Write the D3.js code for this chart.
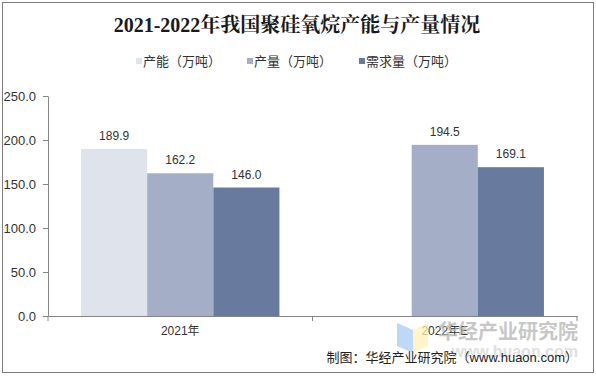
<!DOCTYPE html>
<html>
<head>
<meta charset="utf-8">
<script src="https://cdn.jsdelivr.net/npm/d3@7"></script>
<style>
  body { margin: 0; background: #fff; }
  text { font-family: "Liberation Sans", Arial, "Noto Sans CJK SC", sans-serif; }
  .title { font-family: "Liberation Serif", "Noto Serif CJK SC", "Noto Sans CJK SC", serif; font-weight: bold; font-size: 20px; fill: #1a1a1a; }
  .axis path, .axis line { stroke: #868686; }
  .axis text { fill: #333; }
</style>
</head>
<body>
<div id="chart"></div>
<script>
// chart data
const categories = ["2021年", "2022年E"];
const seriesNames = ["产能（万吨）", "产量（万吨）", "需求量（万吨）"];
const capacity = [189.9, null];
const output = [162.2, 194.5];
const demand = [146.0, 169.1];
const yTicks = [0, 50, 100, 150, 200, 250];

const colors = ["#dee3ec", "#a4afc7", "#687b9f"];
const allSeries = [capacity, output, demand];

const W = 596, H = 377;
const margin = {top: 96, right: 19, bottom: 61, left: 48},
    width = W - margin.left - margin.right,
    height = H - margin.top - margin.bottom;

const root = d3.select("#chart")
  .append("svg")
    .attr("width", W)
    .attr("height", H);

// outer frame
root.append("rect")
  .attr("x", 2.5).attr("y", 2.5)
  .attr("width", 591).attr("height", 370)
  .attr("fill", "#fff")
  .attr("stroke", "#7f7f7f");

// title
root.append("text")
  .attr("class", "title")
  .attr("x", 297)
  .attr("y", 32)
  .attr("text-anchor", "middle")
  .text("2021-2022年我国聚硅氧烷产能与产量情况");

// legend
const legendX = [136, 247, 359];
const legend = root.selectAll(".legend")
  .data(seriesNames)
  .join("g")
    .attr("transform", (d, i) => `translate(${legendX[i]},61)`);
legend.append("rect")
  .attr("x", 0).attr("y", -3)
  .attr("width", 6).attr("height", 6)
  .attr("fill", (d, i) => colors[i]);
legend.append("text")
  .attr("x", 7)
  .attr("y", 5)
  .style("font-size", "13px")
  .attr("fill", "#333")
  .text(d => d);

const svg = root.append("g")
  .attr("transform", `translate(${margin.left},${margin.top})`);

// X scale
const x = d3.scaleBand()
  .range([0, width])
  .domain(categories)
  .padding(0);

const xs = d3.scaleBand()
  .domain(d3.range(seriesNames.length))
  .range([0, x.bandwidth()])
  .paddingInner(0)
  .paddingOuter(0.5);

// Y scale
const y = d3.scaleLinear()
  .domain([0, 250])
  .range([height, 0]);

// bars
const rows = [];
categories.forEach((c, ci) => {
  allSeries.forEach((s, si) => {
    if (s[ci] != null) rows.push({cat: c, si: si, value: s[ci]});
  });
});

svg.selectAll(".bar")
  .data(rows)
  .join("rect")
    .attr("class", "bar")
    .attr("x", d => x(d.cat) + xs(d.si))
    .attr("y", d => y(d.value))
    .attr("width", xs.bandwidth())
    .attr("height", d => height - y(d.value))
    .attr("fill", d => colors[d.si]);

// value labels
svg.selectAll(".lbl")
  .data(rows)
  .join("text")
    .attr("x", d => x(d.cat) + xs(d.si) + xs.bandwidth() / 2)
    .attr("y", d => y(d.value) - 9)
    .attr("text-anchor", "middle")
    .style("font-size", "12px")
    .attr("fill", "#333")
    .text(d => d.value.toFixed(1));

// Y axis
svg.append("g")
  .attr("class", "axis")
  .call(d3.axisLeft(y).tickValues(yTicks).tickSize(5).tickSizeOuter(0).tickFormat(d3.format(".1f")))
  .call(g => g.selectAll("text").style("font-size", "13px").attr("x", -12));

// X axis
const xAxis = svg.append("g")
  .attr("class", "axis")
  .attr("transform", `translate(0,${height})`)
  .call(d3.axisBottom(x).tickSize(0).tickSizeOuter(0));
xAxis.selectAll("text")
  .style("font-size", "12px")
  .attr("dy", 0)
  .attr("y", 19);
// boundary ticks between categories
xAxis.selectAll(".sep")
  .data([0, ...categories.map(c => x(c) + x.bandwidth())])
  .join("line")
    .attr("x1", d => d).attr("x2", d => d)
    .attr("y1", 0).attr("y2", 5)
    .attr("stroke", "#868686");

// watermark
const wm = root.append("g").attr("opacity", 0.75);
wm.append("path")
  .attr("d", "M397,323 L413,330 L413,353 L397,346 Z")
  .attr("fill", "#a9cbf5");
wm.append("path")
  .attr("d", "M413,330 L428,323 L428,346 L413,353 Z")
  .attr("fill", "#fff2b3");
wm.append("text")
  .attr("x", 578).attr("y", 339)
  .attr("text-anchor", "end")
  .style("font-family", "'Noto Sans CJK SC', sans-serif")
  .style("font-size", "20px")
  .style("font-weight", "bold")
  .attr("fill", "#b5b5b5")
  .text("华经产业研究院");
wm.append("text")
  .attr("x", 578).attr("y", 357)
  .attr("text-anchor", "end")
  .style("font-size", "16px")
  .style("font-weight", "bold")
  .attr("fill", "#d6d6d6")
  .text("www.huaon.com");

// source
root.append("text")
  .attr("x", 578).attr("y", 362)
  .attr("text-anchor", "end")
  .style("font-size", "13px")
  .attr("fill", "#222")
  .text("制图：华经产业研究院（www.huaon.com）");
</script>
</body>
</html>
